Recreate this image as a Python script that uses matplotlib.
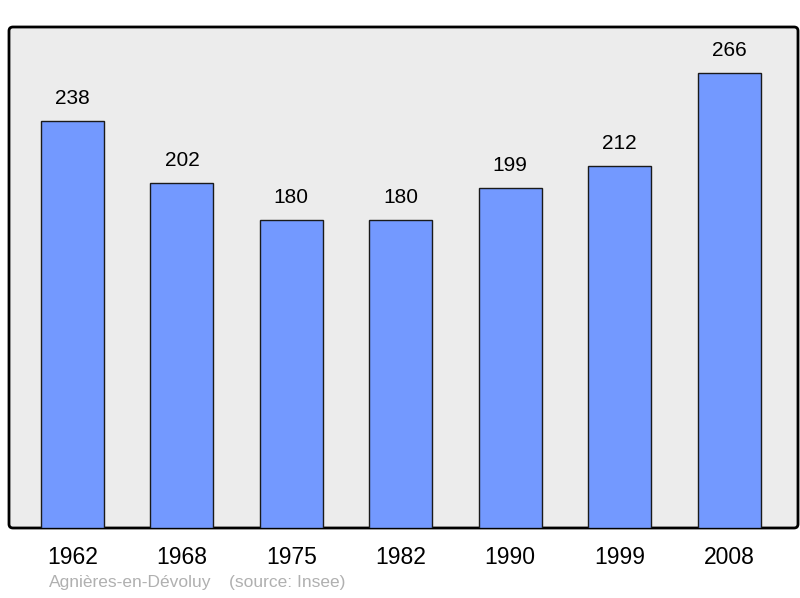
import matplotlib
matplotlib.use("Agg")
import matplotlib.pyplot as plt
from matplotlib.patches import FancyBboxPatch

years = ["1962", "1968", "1975", "1982", "1990", "1999", "2008"]
population = [238, 202, 180, 180, 199, 212, 266]

plt.rcParams['font.family'] = ['Liberation Sans', 'DejaVu Sans']

fig = plt.figure(figsize=(8, 5.98), dpi=100)
ax = fig.add_axes([9 / 800, 70 / 598, 789 / 800, 501 / 598])
ax.patch.set_visible(False)
for s in ax.spines.values():
    s.set_visible(False)

# cadre gris aux coins arrondis
frame = FancyBboxPatch((0, 0), 1, 1, boxstyle="round,pad=0,rounding_size=0.005",
                       mutation_aspect=1.57, transform=ax.transAxes,
                       facecolor="#ececec", edgecolor="black", linewidth=2,
                       clip_on=False, zorder=0)
ax.add_patch(frame)

x = range(len(years))
bars = ax.bar(x, population, width=0.575, color="#7399ff", edgecolor="#1a1a1a",
              linewidth=1, zorder=2)
for xi, v in zip(x, population):
    ax.annotate(str(v), (xi, v), xytext=(0, 16), textcoords="offset points",
                ha="center", va="center", fontsize=15)

ax.set_xlim(-0.58, 6.63)
ax.set_ylim(0, 293)
ax.set_yticks([])
ax.set_xticks(list(x))
ax.set_xticklabels(years, fontsize=16.5)
ax.tick_params(axis="x", length=0, pad=13)

fig.text(49 / 800, 1 - 583 / 598, "Agnières-en-Dévoluy", color="#b0b0b0",
         fontsize=12.5, va="center", ha="left")
fig.text(229 / 800, 1 - 583 / 598, "(source: Insee)", color="#b0b0b0",
         fontsize=12.5, va="center", ha="left")

fig.savefig("out.png", dpi=100)
